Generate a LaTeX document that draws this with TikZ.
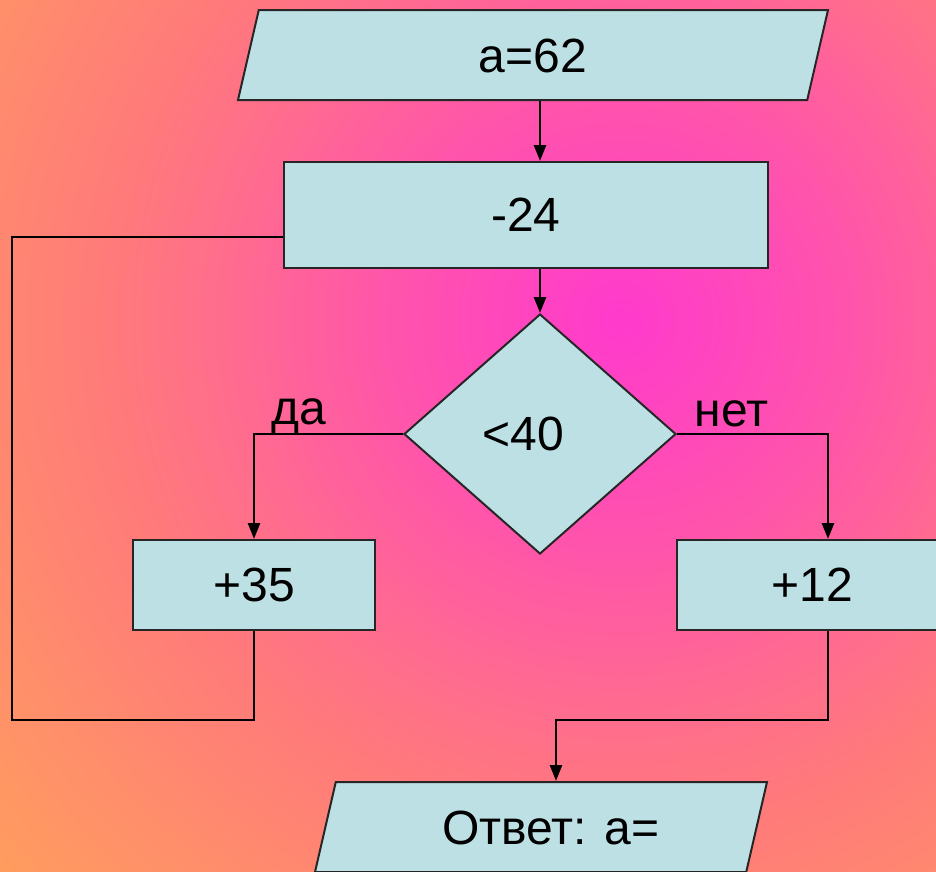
\documentclass[tikz,border=0pt]{standalone}
\usepackage{fontspec}
\setmainfont{Liberation Sans}
\usetikzlibrary{shapes.geometric,arrows.meta,positioning}
\definecolor{blokfill}{RGB}{188,224,228}
\definecolor{fonA}{RGB}{255,58,205}
\definecolor{fonB}{RGB}{255,85,170}
\definecolor{fonC}{RGB}{255,110,140}
\definecolor{fonD}{RGB}{255,122,122}
\definecolor{fonE}{RGB}{255,145,105}
\definecolor{fonF}{RGB}{255,155,95}
\definecolor{fonG}{RGB}{255,182,70}
\pgfdeclareradialshading{fon}{\pgfpoint{0bp}{0bp}}{color(0bp)=(fonA); color(7bp)=(fonB); color(12bp)=(fonC); color(15bp)=(fonD); color(21bp)=(fonE); color(24bp)=(fonF); color(29bp)=(fonG); color(50bp)=(fonG)}

\begin{document}
\begin{tikzpicture}[x=1pt,y=-1pt] % блок-схема
\tikzstyle{box} = [draw=black!85, line width=2pt, fill=blokfill, inner sep=0pt, font=\fontsize{48}{54}\selectfont] % общий стиль блоков
\tikzstyle{prc} = [box, rectangle] % действие
\tikzstyle{io} = [box, trapezium, trapezium left angle=77, trapezium right angle=103, trapezium stretches body, text height=34pt, text depth=0pt, inner ysep=28pt, minimum width=590pt] % ввод/вывод
\tikzstyle{ifb} = [box, diamond, minimum width=272pt, minimum height=240pt] % условие
\tikzstyle{line} = [line width=2.6pt]
\tikzstyle{arr} = [line, -{Triangle[length=16pt,width=12pt]}]
\tikzstyle{metka} = [font=\fontsize{48}{54}\selectfont, inner sep=0pt, anchor=base] % подписи "да"/"нет"

\useasboundingbox (0,0) rectangle (936,871);
\clip (0,0) rectangle (936,871);
\shade[shading=fon] (620,320) circle (850); % фон

\node[io] (vvod) at (533,55) {a=62};
\node[prc, minimum width=484pt, minimum height=106pt] (minus) at (526,215) {-24};
\node[ifb] (usl) at (540,434) {<40\kern34pt\relax};
\node[prc, minimum width=242pt, minimum height=90pt] (plus35) at (254,585) {+35};
\node[prc, minimum width=270pt, minimum height=90pt] (plus12) at (812,585) {+12};
\node[io, minimum width=452pt] (vyvod) at (541,827) {\hspace{20pt}Ответ: a=};
\coordinate (sliv) at (556,720); % слияние веток
\coordinate (povtor) at (12,720); % возврат

\draw[arr] (vvod.south -| usl) -- (minus.north -| usl);
\draw[arr] (minus.south -| usl) -- (usl.north);
\draw[arr] (usl.west) -| (plus35.north) node[metka, pos=0.35, yshift=10pt] {да};
\draw[arr] (usl.east) -| ([xshift=16pt]plus12.north) node[metka, pos=0.18, yshift=8pt] {нет};
\draw[arr] ([xshift=16pt]plus12.south) |- (sliv) -- (vyvod.north -| sliv);
\draw[line] (plus35.south) |- (povtor) |- ([yshift=-22pt]minus.west);
\end{tikzpicture}
\end{document}
